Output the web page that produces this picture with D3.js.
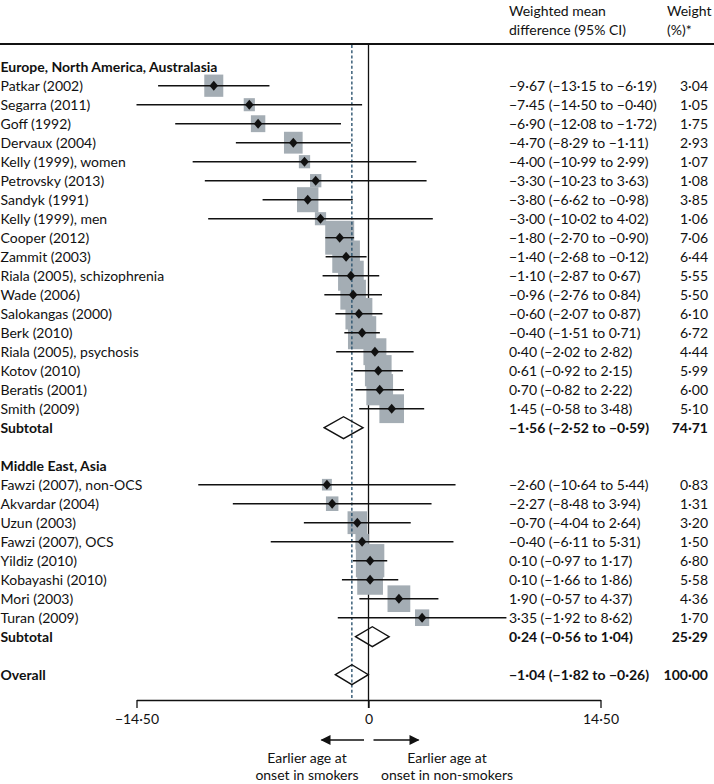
<!DOCTYPE html>
<html><head><meta charset="utf-8">
<script src="https://cdn.jsdelivr.net/npm/d3@7"></script>
<style>
html,body{margin:0;padding:0;background:#fff;}
svg{display:block;font-family:Lato, "Noto Sans", sans-serif;}
</style></head>
<body><svg id="chart" width="714" height="784"></svg>
<script>
// ---- data ----
const groupNames = ["Europe, North America, Australasia", "Middle East, Asia"];

const euroStudies = ["Patkar (2002)","Segarra (2011)","Goff (1992)","Dervaux (2004)","Kelly (1999), women","Petrovsky (2013)","Sandyk (1991)","Kelly (1999), men","Cooper (2012)","Zammit (2003)","Riala (2005), schizophrenia","Wade (2006)","Salokangas (2000)","Berk (2010)","Riala (2005), psychosis","Kotov (2010)","Beratis (2001)","Smith (2009)"];
const euroMean   = [-9.67,-7.45,-6.90,-4.70,-4.00,-3.30,-3.80,-3.00,-1.80,-1.40,-1.10,-0.96,-0.60,-0.40,0.40,0.61,0.70,1.45];
const euroLow    = [-13.15,-14.50,-12.08,-8.29,-10.99,-10.23,-6.62,-10.02,-2.70,-2.68,-2.87,-2.76,-2.07,-1.51,-2.02,-0.92,-0.82,-0.58];
const euroHigh   = [-6.19,-0.40,-1.72,-1.11,2.99,3.63,-0.98,4.02,-0.90,-0.12,0.67,0.84,0.87,0.71,2.82,2.15,2.22,3.48];
const euroWeight = [3.04,1.05,1.75,2.93,1.07,1.08,3.85,1.06,7.06,6.44,5.55,5.50,6.10,6.72,4.44,5.99,6.00,5.10];

const asiaStudies = ["Fawzi (2007), non-OCS","Akvardar (2004)","Uzun (2003)","Fawzi (2007), OCS","Yildiz (2010)","Kobayashi (2010)","Mori (2003)","Turan (2009)"];
const asiaMean   = [-2.60,-2.27,-0.70,-0.40,0.10,0.10,1.90,3.35];
const asiaLow    = [-10.64,-8.48,-4.04,-6.11,-0.97,-1.66,-0.57,-1.92];
const asiaHigh   = [5.44,3.94,2.64,5.31,1.17,1.86,4.37,8.62];
const asiaWeight = [0.83,1.31,3.20,1.50,6.80,5.58,4.36,1.70];

const summaryLabels = ["Subtotal","Subtotal","Overall"];
const summaryMean   = [-1.56, 0.24, -1.04];
const summaryLow    = [-2.52, -0.56, -1.82];
const summaryHigh   = [-0.59, 1.04, -0.26];
const summaryWeight = [74.71, 25.29, 100.00];

const axisTicks = [-14.5, 0, 14.5];
const headerCI = ["Weighted mean", "difference (95% CI)"];
const headerW = ["Weight", "(%)*"];
const leftNote = ["Earlier age at", "onset in smokers"];
const rightNote = ["Earlier age at", "onset in non-smokers"];

// ---- build rows ----
const rows = [];
let r = 0;
rows.push({type:"group", label:groupNames[0], row:r++});
euroStudies.forEach((s,i)=>rows.push({type:"study", label:s, m:euroMean[i], lo:euroLow[i], hi:euroHigh[i], w:euroWeight[i], row:r++}));
rows.push({type:"summary", label:summaryLabels[0], m:summaryMean[0], lo:summaryLow[0], hi:summaryHigh[0], w:summaryWeight[0], row:r++});
r++;
rows.push({type:"group", label:groupNames[1], row:r++});
asiaStudies.forEach((s,i)=>rows.push({type:"study", label:s, m:asiaMean[i], lo:asiaLow[i], hi:asiaHigh[i], w:asiaWeight[i], row:r++}));
rows.push({type:"summary", label:summaryLabels[1], m:summaryMean[1], lo:summaryLow[1], hi:summaryHigh[1], w:summaryWeight[1], row:r++});
r++;
rows.push({type:"summary", label:summaryLabels[2], m:summaryMean[2], lo:summaryLow[2], hi:summaryHigh[2], w:summaryWeight[2], row:r++});

// ---- scales ----
const x = d3.scaleLinear().domain([-14.5, 14.5]).range([136.5, 600.5]);
const y = d3.scaleLinear().domain([0, 32]).range([66.7, 674.7]);
const sq = d3.scaleSqrt().domain([0, 1]).range([0, 10.9]);

const fmt = v => d3.format(".2f")(v).replace("-", "\u2212").replace(".", "\u00b7");
const fmtW = v => d3.format(".2f")(v).replace(".", "\u00b7");

const svg = d3.select("#chart");
const ink = "#111";
const fs = 14;

// header
svg.append("g").selectAll("text").data(headerCI).join("text")
  .attr("x", 509).attr("y", (d,i)=>16 + i*19).attr("font-size", fs).attr("fill", ink).text(d=>d);
svg.append("g").selectAll("text").data(headerW).join("text")
  .attr("x", 667).attr("y", (d,i)=>16 + i*19).attr("font-size", fs).attr("fill", ink).text(d=>d);
svg.append("line").attr("x1",0).attr("x2",714).attr("y1",44).attr("y2",44)
  .attr("stroke", ink).attr("stroke-width", 2);

// zero line
svg.append("line").attr("x1", x(0)).attr("x2", x(0)).attr("y1", 45).attr("y2", 708)
  .attr("stroke", ink).attr("stroke-width", 1.3);

const studies = rows.filter(d=>d.type==="study");
const summaries = rows.filter(d=>d.type==="summary");

// squares
svg.append("g").selectAll("rect").data(studies).join("rect")
  .attr("x", d=>x(d.m) - sq(d.w)/2)
  .attr("y", d=>y(d.row) - sq(d.w)*1.17/2)
  .attr("width", d=>sq(d.w))
  .attr("height", d=>sq(d.w)*1.17)
  .attr("fill", "#a4adb4");

// dashed overall line
svg.append("line").attr("x1", x(summaryMean[2])).attr("x2", x(summaryMean[2]))
  .attr("y1", 45).attr("y2", 700)
  .attr("stroke", "#2d5470").attr("stroke-width", 1.4).attr("stroke-dasharray", "3,2.2");

// CI lines
svg.append("g").selectAll("line").data(studies).join("line")
  .attr("x1", d=>x(d.lo)).attr("x2", d=>x(d.hi))
  .attr("y1", d=>y(d.row)).attr("y2", d=>y(d.row))
  .attr("stroke", ink).attr("stroke-width", 1.4);

// point diamonds
svg.append("g").selectAll("path").data(studies).join("path")
  .attr("d", d=>{const cx=x(d.m), cy=y(d.row); return `M${cx-4.3},${cy}L${cx},${cy-5}L${cx+4.3},${cy}L${cx},${cy+5}Z`;})
  .attr("fill", ink);

// summary diamonds
svg.append("g").selectAll("path").data(summaries).join("path")
  .attr("d", d=>{const l=x(d.lo)-4, h=x(d.hi)+4, c=x(d.m), cy=y(d.row), hh = d.row===19 ? 11 : 10; return `M${l},${cy}L${c},${cy-hh}L${h},${cy}L${c},${cy+hh}Z`;})
  .attr("fill", "none").attr("stroke", ink).attr("stroke-width", 1.4);

// left labels
svg.append("g").selectAll("text").data(rows).join("text")
  .attr("x", 0.5).attr("y", d=>y(d.row)).attr("dy", "0.36em")
  .attr("font-size", fs).attr("fill", ink)
  .attr("font-weight", d=>d.type==="study" ? 400 : 700)
  .text(d=>d.label);

// CI text
const valued = rows.filter(d=>d.type!=="group");
svg.append("g").selectAll("text").data(valued).join("text")
  .attr("x", 509).attr("y", d=>y(d.row)).attr("dy", "0.36em")
  .attr("font-size", fs).attr("fill", ink)
  .attr("font-weight", d=>d.type==="study" ? 400 : 700)
  .text(d=>`${fmt(d.m)} (${fmt(d.lo)} to ${fmt(d.hi)})`);
svg.append("g").selectAll("text").data(valued).join("text")
  .attr("x", 708).attr("y", d=>y(d.row)).attr("dy", "0.36em")
  .attr("text-anchor", "end")
  .attr("font-size", fs).attr("fill", ink)
  .attr("font-weight", d=>d.type==="study" ? 400 : 700)
  .text(d=>fmtW(d.w));

// axis
const axis = d3.axisBottom(x).tickValues(axisTicks).tickSize(8).tickSizeOuter(0).tickPadding(6)
  .tickFormat(v => v===0 ? "0" : fmt(v));
const ag = svg.append("g").attr("transform", "translate(0,700)").call(axis);
ag.select(".domain").attr("stroke", ink).attr("stroke-width", 1.6);
ag.selectAll(".tick line").attr("stroke", ink).attr("stroke-width", 1.3);
ag.selectAll(".tick text").attr("font-size", fs).attr("fill", ink).attr("font-family", "Lato, sans-serif");

// arrows
const defs = svg.append("defs");
defs.append("marker").attr("id","ah").attr("viewBox","0 0 10 10").attr("refX",9).attr("refY",5)
  .attr("markerWidth",11).attr("markerHeight",10).attr("markerUnits","userSpaceOnUse").attr("orient","auto")
  .append("path").attr("d","M0,0L10,5L0,10Z").attr("fill", ink);
svg.append("line").attr("x1", x(0)-4.5).attr("x2", x(0)-47).attr("y1",740).attr("y2",740)
  .attr("stroke", ink).attr("stroke-width",1.4).attr("marker-end","url(#ah)");
svg.append("line").attr("x1", x(0)+5).attr("x2", x(0)+50).attr("y1",740).attr("y2",740)
  .attr("stroke", ink).attr("stroke-width",1.4).attr("marker-end","url(#ah)");

svg.append("g").selectAll("text").data(leftNote).join("text")
  .attr("x", 307).attr("y", (d,i)=>763 + i*17).attr("text-anchor","middle")
  .attr("font-size", fs).attr("fill", ink).text(d=>d);
svg.append("g").selectAll("text").data(rightNote).join("text")
  .attr("x", 447).attr("y", (d,i)=>763 + i*17).attr("text-anchor","middle")
  .attr("font-size", fs).attr("fill", ink).text(d=>d);
</script></body></html>
